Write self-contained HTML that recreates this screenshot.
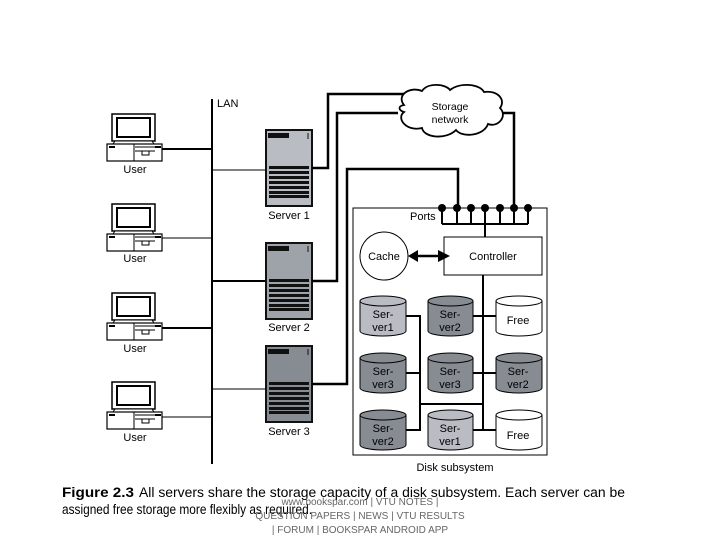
<!DOCTYPE html>
<html><head><meta charset="utf-8"><style>
html,body{margin:0;padding:0;background:#fff;width:720px;height:540px;overflow:hidden}
svg text{font-family:"Liberation Sans",sans-serif}
</style></head><body>
<svg width="720" height="540" viewBox="0 0 720 540" xmlns="http://www.w3.org/2000/svg">
<defs>
<g id="user">
  <rect x="112" y="114" width="43" height="27" fill="#fff" stroke="#000" stroke-width="1.5"/>
  <rect x="117" y="118" width="33" height="19" fill="#fff" stroke="#000" stroke-width="2"/>
  <path d="M115 141 L152 141 L154 144 L113 144 Z" fill="#fff" stroke="#000" stroke-width="1"/>
  <rect x="107" y="144" width="55" height="17" fill="#fff" stroke="#000" stroke-width="1.2"/>
  <rect x="109" y="146" width="6" height="2" fill="#000"/>
  <rect x="155" y="146" width="6" height="2" fill="#000"/>
  <line x1="135" y1="147" x2="155" y2="147" stroke="#000"/>
  <line x1="135" y1="151" x2="155" y2="151" stroke="#000"/>
  <rect x="142" y="151" width="7" height="4" fill="none" stroke="#000"/>
  <line x1="134" y1="144" x2="134" y2="161" stroke="#000"/>
</g>
<g id="stripes">
  <rect x="0" y="36" width="40" height="3" fill="#111"/>
  <rect x="0" y="41" width="40" height="3" fill="#111"/>
  <rect x="0" y="46" width="40" height="3" fill="#111"/>
  <rect x="0" y="51" width="40" height="3" fill="#111"/>
  <rect x="0" y="56" width="40" height="3" fill="#111"/>
  <rect x="0" y="61" width="40" height="3" fill="#111"/>
  <rect x="0" y="65" width="40" height="3" fill="#111"/>
</g>
</defs>

<line x1="212" y1="99" x2="212" y2="464" stroke="#000" stroke-width="2"/>
<text x="217" y="107" font-size="11">LAN</text>

<use href="#user"/>
<use href="#user" transform="translate(0,90)"/>
<use href="#user" transform="translate(0,179)"/>
<use href="#user" transform="translate(0,268)"/>
<text x="135" y="173" font-size="11" text-anchor="middle">User</text>
<text x="135" y="262" font-size="11" text-anchor="middle">User</text>
<text x="135" y="352" font-size="11" text-anchor="middle">User</text>
<text x="135" y="441" font-size="11" text-anchor="middle">User</text>
<line x1="162" y1="149" x2="212" y2="149" stroke="#000" stroke-width="2"/>
<line x1="162" y1="238" x2="212" y2="238" stroke="#000" stroke-width="1"/>
<line x1="162" y1="328" x2="212" y2="328" stroke="#000" stroke-width="2"/>
<line x1="162" y1="417" x2="212" y2="417" stroke="#000" stroke-width="1"/>

<line x1="212" y1="170" x2="266" y2="170" stroke="#000" stroke-width="1"/>
<line x1="212" y1="281" x2="266" y2="281" stroke="#000" stroke-width="2"/>
<line x1="212" y1="389" x2="266" y2="389" stroke="#000" stroke-width="1"/>

<g transform="translate(266,130)">
  <rect x="0" y="0" width="46" height="76" fill="#b9bcc3" stroke="#111" stroke-width="2"/>
  <rect x="2" y="3" width="21" height="5" fill="#111"/>
  <line x1="42" y1="3" x2="42" y2="9" stroke="#111"/>
  <g transform="translate(3,0)"><use href="#stripes"/></g>
</g>
<g transform="translate(266,243)">
  <rect x="0" y="0" width="46" height="76" fill="#9ea2a9" stroke="#111" stroke-width="2"/>
  <rect x="2" y="3" width="21" height="5" fill="#111"/>
  <line x1="42" y1="3" x2="42" y2="9" stroke="#111"/>
  <g transform="translate(3,0)"><use href="#stripes"/></g>
</g>
<g transform="translate(266,346)">
  <rect x="0" y="0" width="46" height="76" fill="#878b92" stroke="#111" stroke-width="2"/>
  <rect x="2" y="3" width="21" height="5" fill="#111"/>
  <line x1="42" y1="3" x2="42" y2="9" stroke="#111"/>
  <g transform="translate(3,0)"><use href="#stripes"/></g>
</g>
<text x="289" y="219" font-size="11" text-anchor="middle">Server 1</text>
<text x="289" y="331" font-size="11" text-anchor="middle">Server 2</text>
<text x="289" y="435" font-size="11" text-anchor="middle">Server 3</text>

<g fill="none" stroke="#000" stroke-width="2.5">
  <polyline points="312,168 328,168 328,94 420,94"/>
  <polyline points="312,281 337,281 337,113 398,113"/>
  <polyline points="312,384 347,384 347,169 458,169 458,208"/>
  <polyline points="500,113 514,113 514,208"/>
</g>

<path d="M404 105 C396 95 410 86 422 91 C428 82 446 84 450 90 C460 82 480 84 484 92 C498 90 506 100 500 108 C508 116 498 128 488 124 C484 136 462 138 456 130 C446 140 424 138 422 128 C406 132 396 118 404 112 C398 110 398 106 404 105 Z" fill="#fff" stroke="#000" stroke-width="1.8"/>
<text x="450" y="110" font-size="10.5" text-anchor="middle">Storage</text>
<text x="450" y="123" font-size="10.5" text-anchor="middle">network</text>

<rect x="353" y="208" width="194" height="247" fill="none" stroke="#000" stroke-width="1"/>
<text x="410" y="220" font-size="11">Ports</text>
<g stroke="#000" stroke-width="2" fill="none">
  <line x1="442" y1="224" x2="528" y2="224"/>
  <line x1="442" y1="208" x2="442" y2="224"/>
  <line x1="457" y1="208" x2="457" y2="224"/>
  <line x1="471" y1="208" x2="471" y2="224"/>
  <line x1="485" y1="208" x2="485" y2="237"/>
  <line x1="500" y1="208" x2="500" y2="224"/>
  <line x1="514" y1="208" x2="514" y2="224"/>
  <line x1="528" y1="208" x2="528" y2="224"/>
</g>
<g fill="#000">
  <circle cx="442" cy="208" r="4"/><circle cx="457" cy="208" r="4"/><circle cx="471" cy="208" r="4"/>
  <circle cx="485" cy="208" r="4"/><circle cx="500" cy="208" r="4"/><circle cx="514" cy="208" r="4"/>
  <circle cx="528" cy="208" r="4"/>
</g>
<rect x="444" y="237" width="98" height="38" fill="#fff" stroke="#000" stroke-width="1"/>
<text x="493" y="260" font-size="11" text-anchor="middle">Controller</text>
<circle cx="384" cy="256" r="24" fill="#fff" stroke="#000" stroke-width="1"/>
<text x="384" y="260" font-size="11" text-anchor="middle">Cache</text>
<line x1="414" y1="256" x2="440" y2="256" stroke="#000" stroke-width="2.5"/>
<path d="M408 256 L418 250 L418 262 Z M450 256 L438 250 L438 262 Z" fill="#000"/>

<g fill="none" stroke="#000" stroke-width="2">
  <line x1="483" y1="275" x2="483" y2="430"/>
  <polyline points="406,316 420,316 420,430 406,430"/>
  <line x1="406" y1="373" x2="420" y2="373"/>
  <line x1="420" y1="404" x2="483" y2="404"/>
  <line x1="473" y1="316" x2="496" y2="316"/>
  <line x1="473" y1="373" x2="496" y2="373"/>
  <line x1="473" y1="430" x2="496" y2="430"/>
</g>

<g stroke="#000" stroke-width="1">
  <path d="M360 301 L360 331 A23 5 0 0 0 406 331 L406 301" fill="#b9bcc3"/><ellipse cx="383" cy="301" rx="23" ry="5" fill="#b9bcc3"/>
  <path d="M428 301 L428 331 A22.5 5 0 0 0 473 331 L473 301" fill="#878b92"/><ellipse cx="450.5" cy="301" rx="22.5" ry="5" fill="#878b92"/>
  <path d="M496 301 L496 331 A23 5 0 0 0 542 331 L542 301" fill="#fff"/><ellipse cx="519" cy="301" rx="23" ry="5" fill="#fff"/>
  <path d="M360 358 L360 388 A23 5 0 0 0 406 388 L406 358" fill="#878b92"/><ellipse cx="383" cy="358" rx="23" ry="5" fill="#878b92"/>
  <path d="M428 358 L428 388 A22.5 5 0 0 0 473 388 L473 358" fill="#878b92"/><ellipse cx="450.5" cy="358" rx="22.5" ry="5" fill="#878b92"/>
  <path d="M496 358 L496 388 A23 5 0 0 0 542 388 L542 358" fill="#878b92"/><ellipse cx="519" cy="358" rx="23" ry="5" fill="#878b92"/>
  <path d="M360 415 L360 445 A23 5 0 0 0 406 445 L406 415" fill="#878b92"/><ellipse cx="383" cy="415" rx="23" ry="5" fill="#878b92"/>
  <path d="M428 415 L428 445 A22.5 5 0 0 0 473 445 L473 415" fill="#b9bcc3"/><ellipse cx="450.5" cy="415" rx="22.5" ry="5" fill="#b9bcc3"/>
  <path d="M496 415 L496 445 A23 5 0 0 0 542 445 L542 415" fill="#fff"/><ellipse cx="519" cy="415" rx="23" ry="5" fill="#fff"/>
</g>
<g font-size="11" text-anchor="middle">
  <text x="383" y="318">Ser-</text><text x="383" y="331">ver1</text>
  <text x="450" y="318">Ser-</text><text x="450" y="331">ver2</text>
  <text x="518" y="324">Free</text>
  <text x="383" y="375">Ser-</text><text x="383" y="388">ver3</text>
  <text x="450" y="375">Ser-</text><text x="450" y="388">ver3</text>
  <text x="518" y="375">Ser-</text><text x="518" y="388">ver2</text>
  <text x="383" y="432">Ser-</text><text x="383" y="445">ver2</text>
  <text x="450" y="432">Ser-</text><text x="450" y="445">ver1</text>
  <text x="518" y="439">Free</text>
</g>
<text x="455" y="471" font-size="11" text-anchor="middle">Disk subsystem</text>

<text x="62" y="497" font-size="13.5" font-weight="bold" textLength="72" lengthAdjust="spacingAndGlyphs">Figure 2.3</text>
<text x="139" y="497" font-size="13.5" textLength="486" lengthAdjust="spacingAndGlyphs">All servers share the storage capacity of a disk subsystem. Each server can be</text>
<text x="62" y="514" font-size="13.5" textLength="250" lengthAdjust="spacingAndGlyphs">assigned free storage more flexibly as required.</text>
<g font-size="10" fill="#666" text-anchor="middle">
  <text x="360" y="505">www.bookspar.com | VTU NOTES |</text>
  <text x="360" y="519">QUESTION PAPERS | NEWS | VTU RESULTS</text>
  <text x="360" y="533">| FORUM | BOOKSPAR ANDROID APP</text>
</g>
</svg>
</body></html>
